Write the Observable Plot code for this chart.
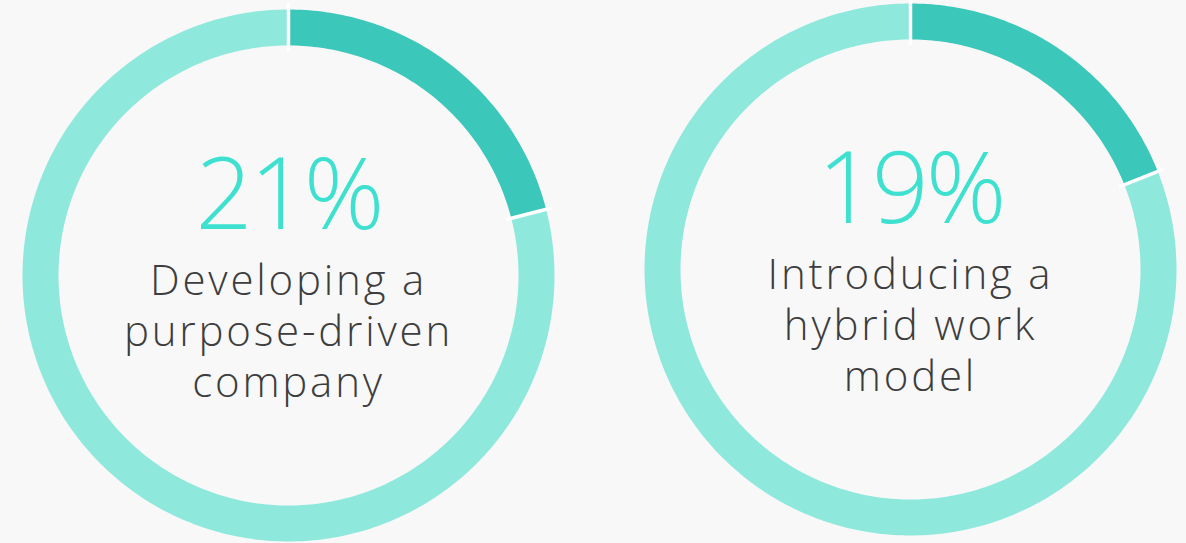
<!DOCTYPE html>
<html>
<head>
<meta charset="utf-8">
<script src="https://cdn.jsdelivr.net/npm/d3@7"></script>
<script src="https://cdn.jsdelivr.net/npm/@observablehq/plot@0.6"></script>
<style>
  html, body { margin: 0; padding: 0; background: #f8f8f8; overflow: hidden; }
  #wrap { position: relative; width: 1186px; height: 543px; }
</style>
</head>
<body>
<div id="wrap"></div>
<script>
// ---- data ----
const percents = [21, 19];
const percentLabels = ["21%", "19%"];
const labels = [
  "Developing a\npurpose-driven\ncompany",
  "Introducing a\nhybrid work\nmodel"
];
const segmentNames = ["share", "rest"];

// ---- layout / style ----
const colors = ["#3bc7b9", "#8fe8dc"];
const R = 267;                 // pixels per unit radius
const ringMid = 248 / R;
const ringWidth = 36;
const labelSize = 42;
const lineGap = 51;
const panels = [
  {left: 0,   width: 576, cx: 288, cy: 275},
  {left: 576, width: 610, cx: 334, cy: 269}
];
const H = 543;

const wrap = document.getElementById("wrap");

percents.forEach((p, i) => {
  const P = panels[i];
  // arc points derived from the data value
  const pts = [];
  const segs = [[0, p], [p, 100]];
  segs.forEach(([a, b], s) => {
    const n = Math.max(2, Math.ceil((b - a) * 4));
    for (let k = 0; k <= n; k++) {
      const v = a + (b - a) * k / n;
      const t = v / 100 * 2 * Math.PI;
      pts.push({seg: segmentNames[s], x: ringMid * Math.sin(t), y: ringMid * Math.cos(t)});
    }
  });
  const seps = [0, p].map(v => {
    const t = v / 100 * 2 * Math.PI;
    return {x1: 0.84 * Math.sin(t), y1: 0.84 * Math.cos(t), x2: 1.02 * Math.sin(t), y2: 1.02 * Math.cos(t)};
  });

  const chart = Plot.plot({
    width: P.width,
    height: H,
    marginLeft: P.cx - R,
    marginRight: P.width - P.cx - R,
    marginTop: P.cy - R,
    marginBottom: H - P.cy - R,
    x: {domain: [-1, 1], axis: null},
    y: {domain: [-1, 1], axis: null},
    color: {domain: segmentNames, range: colors},
    style: {background: "transparent", overflow: "visible"},
    marks: [
      Plot.line(pts, {x: "x", y: "y", z: "seg", stroke: "seg", strokeWidth: ringWidth, strokeLinecap: "butt", strokeLinejoin: "round"}),
      Plot.link(seps, {x1: "x1", y1: "y1", x2: "x2", y2: "y2", stroke: "white", strokeWidth: 3.5}),
      Plot.text([percentLabels[i]], {
        x: () => 0, y: () => 0, text: d => d,
        lineAnchor: "bottom", dy: -47,
        fontSize: 100, fontWeight: 300, fill: "#3ee0cf",
        fontFamily: "Open Sans"
      }),
      Plot.text([labels[i]], {
        x: () => 0, y: () => 0, text: d => d,
        lineAnchor: "bottom", lineHeight: lineGap / labelSize, dy: 19 + 2 * lineGap,
        fontSize: labelSize, fontWeight: 300, fill: "#3d3d3d",
        fontFamily: "Open Sans"
      })
    ]
  });
  chart.querySelectorAll('g[aria-label="text"]').forEach((g, k) => {
    g.style.letterSpacing = k === 0 ? "-3px" : "2.8px";
  });
  chart.style.position = "absolute";
  chart.style.left = P.left + "px";
  chart.style.top = "0px";
  wrap.appendChild(chart);
});
</script>
</body>
</html>
